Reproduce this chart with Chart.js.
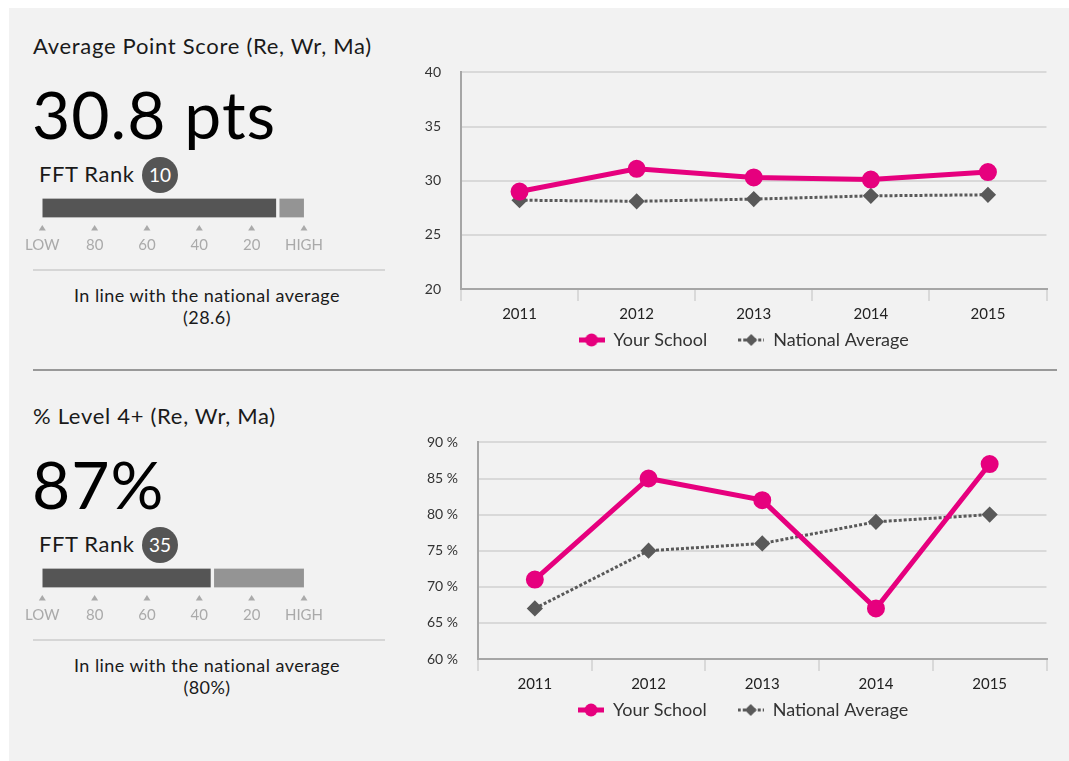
<!DOCTYPE html>
<html>
<head>
<meta charset="utf-8">
<script src="https://cdn.jsdelivr.net/npm/chart.js@4.4.1/dist/chart.umd.min.js"></script>
<style>
  body { margin: 0; background: #fff; font-family: Lato, "Noto Sans", sans-serif; }
  #panel { position: absolute; left: 9px; top: 8px; width: 1060px; height: 753px; background: #f2f2f2; }
  .abs { position: absolute; white-space: nowrap; }
  .title { font-size: 22px; line-height: 26px; letter-spacing: 0.7px; color: #1a1a1a; }
  .big { font-size: 66px; line-height: 66px; letter-spacing: 1px; color: #000; }
  .rank { font-size: 22px; line-height: 26px; letter-spacing: 0.6px; color: #1a1a1a; }
  .badge { width: 36px; height: 36px; border-radius: 50%; background: #555; color: #fff;
           font-size: 19px; line-height: 36px; text-align: center; }
  .rule { height: 2px; background: #d6d6d6; }
  .note { font-size: 18px; line-height: 22px; letter-spacing: 0.45px; color: #1a1a1a; text-align: center; width: 360px; }
  #divider { left: 33px; top: 369px; width: 1024px; height: 2px; background: #999; }
</style>
</head>
<body>
<div id="panel"></div>
<div id="divider" class="abs"></div>
<script>
// ---- data ----
const years = ['2011', '2012', '2013', '2014', '2015'];
const apsSchool   = [29.0, 31.1, 30.3, 30.1, 30.8];
const apsNational = [28.2, 28.1, 28.3, 28.6, 28.7];
const l4School    = [71, 85, 82, 67, 87];
const l4National  = [67, 75, 76, 79, 80];

const rankTicks  = [100, 80, 60, 40, 20, 0];
const rankLabels = ['LOW', '80', '60', '40', '20', 'HIGH'];

const sections = [
  { title: 'Average Point Score (Re, Wr, Ma)', headline: '30.8 pts', rank: 10,
    note: ['In line with the national average', '(28.6)'],
    school: apsSchool, national: apsNational, yMin: 20, yMax: 40, suffix: '' },
  { title: '% Level 4+ (Re, Wr, Ma)', headline: '87%', rank: 35,
    note: ['In line with the national average', '(80%)'],
    school: l4School, national: l4National, yMin: 60, yMax: 90, suffix: ' %' }
];

// layout per section: y axis width and trailing legend space (keeps legend centred like the original)
const yWidths = [46, 63];
const legendTail = ['\u2002\u2002\u2009', '\u2002\u2002\u2002\u2002\u2009'];

const PINK = '#e6007e';
const GREY = '#595959';

function el(cls, text, left, top, extra) {
  const d = document.createElement('div');
  d.className = 'abs ' + cls;
  if (text != null) d.textContent = text;
  d.style.left = left + 'px';
  d.style.top = top + 'px';
  Object.assign(d.style, extra || {});
  document.body.appendChild(d);
  return d;
}

// little legend swatches: line + marker
function swatch(color, dashed, marker) {
  const c = document.createElement('canvas');
  c.width = 26; c.height = 14;
  const g = c.getContext('2d');
  g.strokeStyle = color; g.fillStyle = color;
  g.lineWidth = dashed ? 3 : 5;
  if (dashed) g.setLineDash([3, 2]);
  g.beginPath(); g.moveTo(0, 7); g.lineTo(26, 7); g.stroke();
  g.setLineDash([]);
  g.beginPath();
  if (marker === 'circle') g.arc(13, 7, 6.5, 0, Math.PI * 2);
  else { g.moveTo(13, 1); g.lineTo(19, 7); g.lineTo(13, 13); g.lineTo(7, 7); g.closePath(); }
  g.fill();
  return c;
}
const schoolSwatch = swatch(PINK, false, 'circle');
const nationalSwatch = swatch(GREY, true, 'diamond');

// triangles under the rank bar ticks
const rankMarks = {
  id: 'rankMarks',
  afterDraw(chart) {
    const x = chart.scales.x, g = chart.ctx;
    const y = chart.chartArea.bottom + 2;
    g.save();
    g.fillStyle = '#aaa';
    rankTicks.forEach(v => {
      const px = x.getPixelForValue(v);
      g.beginPath(); g.moveTo(px, y); g.lineTo(px + 3.5, y + 5.5); g.lineTo(px - 3.5, y + 5.5); g.closePath(); g.fill();
    });
    g.restore();
  }
};

sections.forEach((s, i) => {
  const dy = i * 370;

  el('title', s.title, 33, 33 + dy);
  el('big', s.headline, 32, 81 + dy);
  el('rank', 'FFT Rank', 39, 161 + dy);
  el('badge', String(s.rank), 142, 157 + dy);
  el('rule', null, 33, 269 + dy, { width: '352px' });
  el('note', s.note[0], 27, 284 + dy);
  el('note', s.note[1], 27, 306 + dy);

  // rank bar
  const rc = document.createElement('canvas');
  const rw = el('', null, 12, 187 + dy, { width: '324px', height: '70px' });
  rw.appendChild(rc);
  new Chart(rc, {
    type: 'bar',
    data: {
      labels: ['rank'],
      datasets: [
        { data: [[s.rank, 100]], backgroundColor: '#555', borderColor: '#f2f2f2',
          borderWidth: { left: 0, right: 2, top: 0, bottom: 0 }, borderSkipped: false, barThickness: 19 },
        { data: [[0, s.rank]], backgroundColor: '#949494', borderColor: '#f2f2f2',
          borderWidth: { left: 2, right: 0, top: 0, bottom: 0 }, borderSkipped: false, barThickness: 19 }
      ]
    },
    options: {
      indexAxis: 'y', responsive: true, maintainAspectRatio: false, animation: false,
      layout: { padding: { left: 11, right: 17, top: 6, bottom: 4 } },
      plugins: { legend: { display: false }, tooltip: { enabled: false } },
      scales: {
        y: { display: false, stacked: true },
        x: {
          reverse: true, min: 0, max: 100,
          afterBuildTicks: sc => { sc.ticks = rankTicks.map(v => ({ value: v })); },
          grid: { display: false, drawTicks: false }, border: { display: false },
          ticks: { padding: 13, color: '#aaa', font: { family: 'Lato', size: 15 },
                   maxRotation: 0, autoSkip: false,
                   callback: v => rankLabels[rankTicks.indexOf(v)] }
        }
      }
    },
    plugins: [rankMarks]
  });

  // line chart
  const lc = document.createElement('canvas');
  const lw = el('', null, 415, 44 + dy, { width: '643px', height: '319px' });
  lw.appendChild(lc);
  new Chart(lc, {
    type: 'line',
    data: {
      labels: years,
      datasets: [
        { label: 'Your School', data: s.school, borderColor: PINK, backgroundColor: PINK,
          borderWidth: 5, pointRadius: 6.5, pointHoverRadius: 6.5, tension: 0 },
        { label: 'National Average', data: s.national, borderColor: GREY, backgroundColor: GREY,
          borderWidth: 3, borderDash: [3, 2], pointStyle: 'rectRot', pointRadius: 6, pointHoverRadius: 6, tension: 0 }
      ]
    },
    options: {
      responsive: true, maintainAspectRatio: false, animation: false,
      layout: { padding: { left: 0, right: 10, top: 6, bottom: 4 } },
      plugins: {
        tooltip: { enabled: false },
        legend: {
          position: 'bottom', fullSize: false,
          labels: {
            usePointStyle: true, pointStyleWidth: 26, padding: 4, color: '#333',
            font: { family: 'Lato', size: 18 },
            generateLabels: chart => chart.data.datasets.map((d, k) => ({
              text: d.label + (k === 0 ? '\u2002\u2002\u2002' : legendTail[i]),
              pointStyle: k === 0 ? schoolSwatch : nationalSwatch,
              fillStyle: d.borderColor, strokeStyle: d.borderColor, lineWidth: 0,
              datasetIndex: k, fontColor: '#333'
            }))
          }
        }
      },
      scales: {
        x: {
          offset: true,
          grid: { offset: true, drawOnChartArea: false, drawTicks: true, tickLength: 12, color: '#d9d9d9', lineWidth: 2 },
          border: { color: '#a6a6a6', width: 2 },
          ticks: { padding: 4, color: '#222', font: { family: 'Lato', size: 15 } }
        },
        y: {
          min: s.yMin, max: s.yMax,
          afterFit: sc => { sc.width = yWidths[i]; },
          grid: { color: '#d9d9d9', lineWidth: 2, drawTicks: false },
          border: { color: '#a6a6a6', width: 2 },
          ticks: { stepSize: 5, padding: 20, color: '#333', font: { family: 'Lato', size: 14 },
                   callback: v => v + s.suffix }
        }
      }
    }
  });
});
</script>
</body>
</html>
